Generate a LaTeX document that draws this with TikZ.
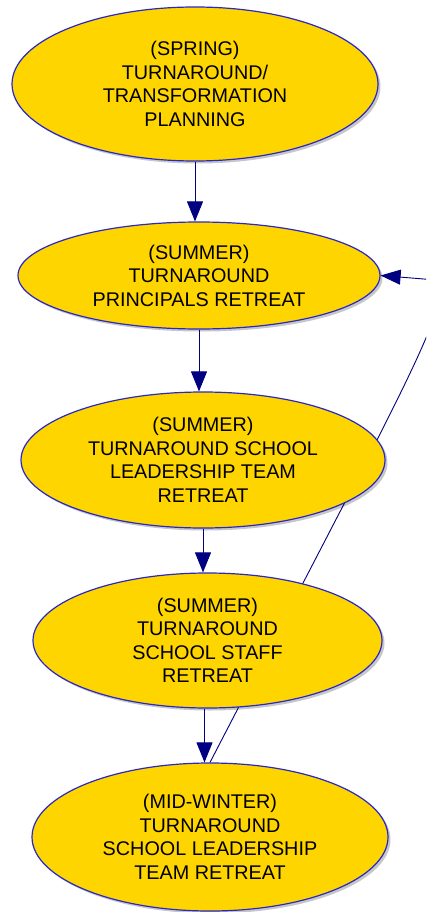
\documentclass[tikz,border=0pt]{standalone}
\usepackage{fontspec}
\setmainfont{Liberation Sans}
\usetikzlibrary{shapes.geometric,arrows.meta,shadows,backgrounds}
\definecolor{nodefill}{RGB}{255,213,0}
\definecolor{nodeline}{RGB}{40,40,200}
\definecolor{edgecol}{RGB}{0,0,128}
\tikzset{
  stage/.style={ellipse, draw=nodeline, line width=1.2pt, fill=nodefill, inner sep=0pt,
    align=center, font=\fontsize{19.8}{23.5}\selectfont,
    drop shadow={shadow xshift=2.5pt, shadow yshift=-2.5pt, fill=black, opacity=0.22}},
  flow/.style={draw=edgecol, line width=1pt, -{Triangle[length=20pt,width=16pt]}},
  backflow/.style={draw=edgecol, line width=0.9pt, -{Triangle[length=20pt,width=15pt]}}
}
\begin{document}
\begin{tikzpicture}[x=1pt,y=-1pt]
\useasboundingbox (0,0) rectangle (426,912);
\node[stage, minimum width=366pt, minimum height=154pt] (n1) at (195,84)
  {(SPRING)\\TURNAROUND/\\TRANSFORMATION\\PLANNING};
\node[stage, minimum width=362pt, minimum height=107pt] (n2) at (199,275.5)
  {(SUMMER)\\TURNAROUND\\PRINCIPALS RETREAT};
\node[stage, minimum width=364pt, minimum height=136pt] (n3) at (203,460)
  {(SUMMER)\\TURNAROUND SCHOOL\\LEADERSHIP TEAM\\RETREAT};
\node[stage, minimum width=349pt, minimum height=135pt] (n4) at (207.5,640.5)
  {(SUMMER)\\TURNAROUND\\SCHOOL STAFF\\RETREAT};
\node[stage, minimum width=356pt, minimum height=148pt] (n5) at (210,837)
  {(MID-WINTER)\\TURNAROUND\\SCHOOL LEADERSHIP\\TEAM RETREAT};
\draw[flow] (n1.south) -- (n1.south |- n2.north);
\draw[flow] (n2.south) -- (n2.south |- n3.north);
\draw[flow] (n3.south) -- (n3.south |- n4.north);
\draw[flow] ([xshift=-3pt]n4.south) -- ([xshift=-3pt]n4.south |- n5.north);
\coordinate (bend) at (372,450);
\coordinate (turn) at (436,280);
\begin{pgfonlayer}{background}
\fill[white] (0,0) rectangle (426,912);
\clip (0,0) rectangle (426,912);
\draw[backflow] (n5.north) -- (bend) .. controls (420,355) and (452,290) .. (turn) -- (n2.east);
\end{pgfonlayer}
\end{tikzpicture}
\end{document}
